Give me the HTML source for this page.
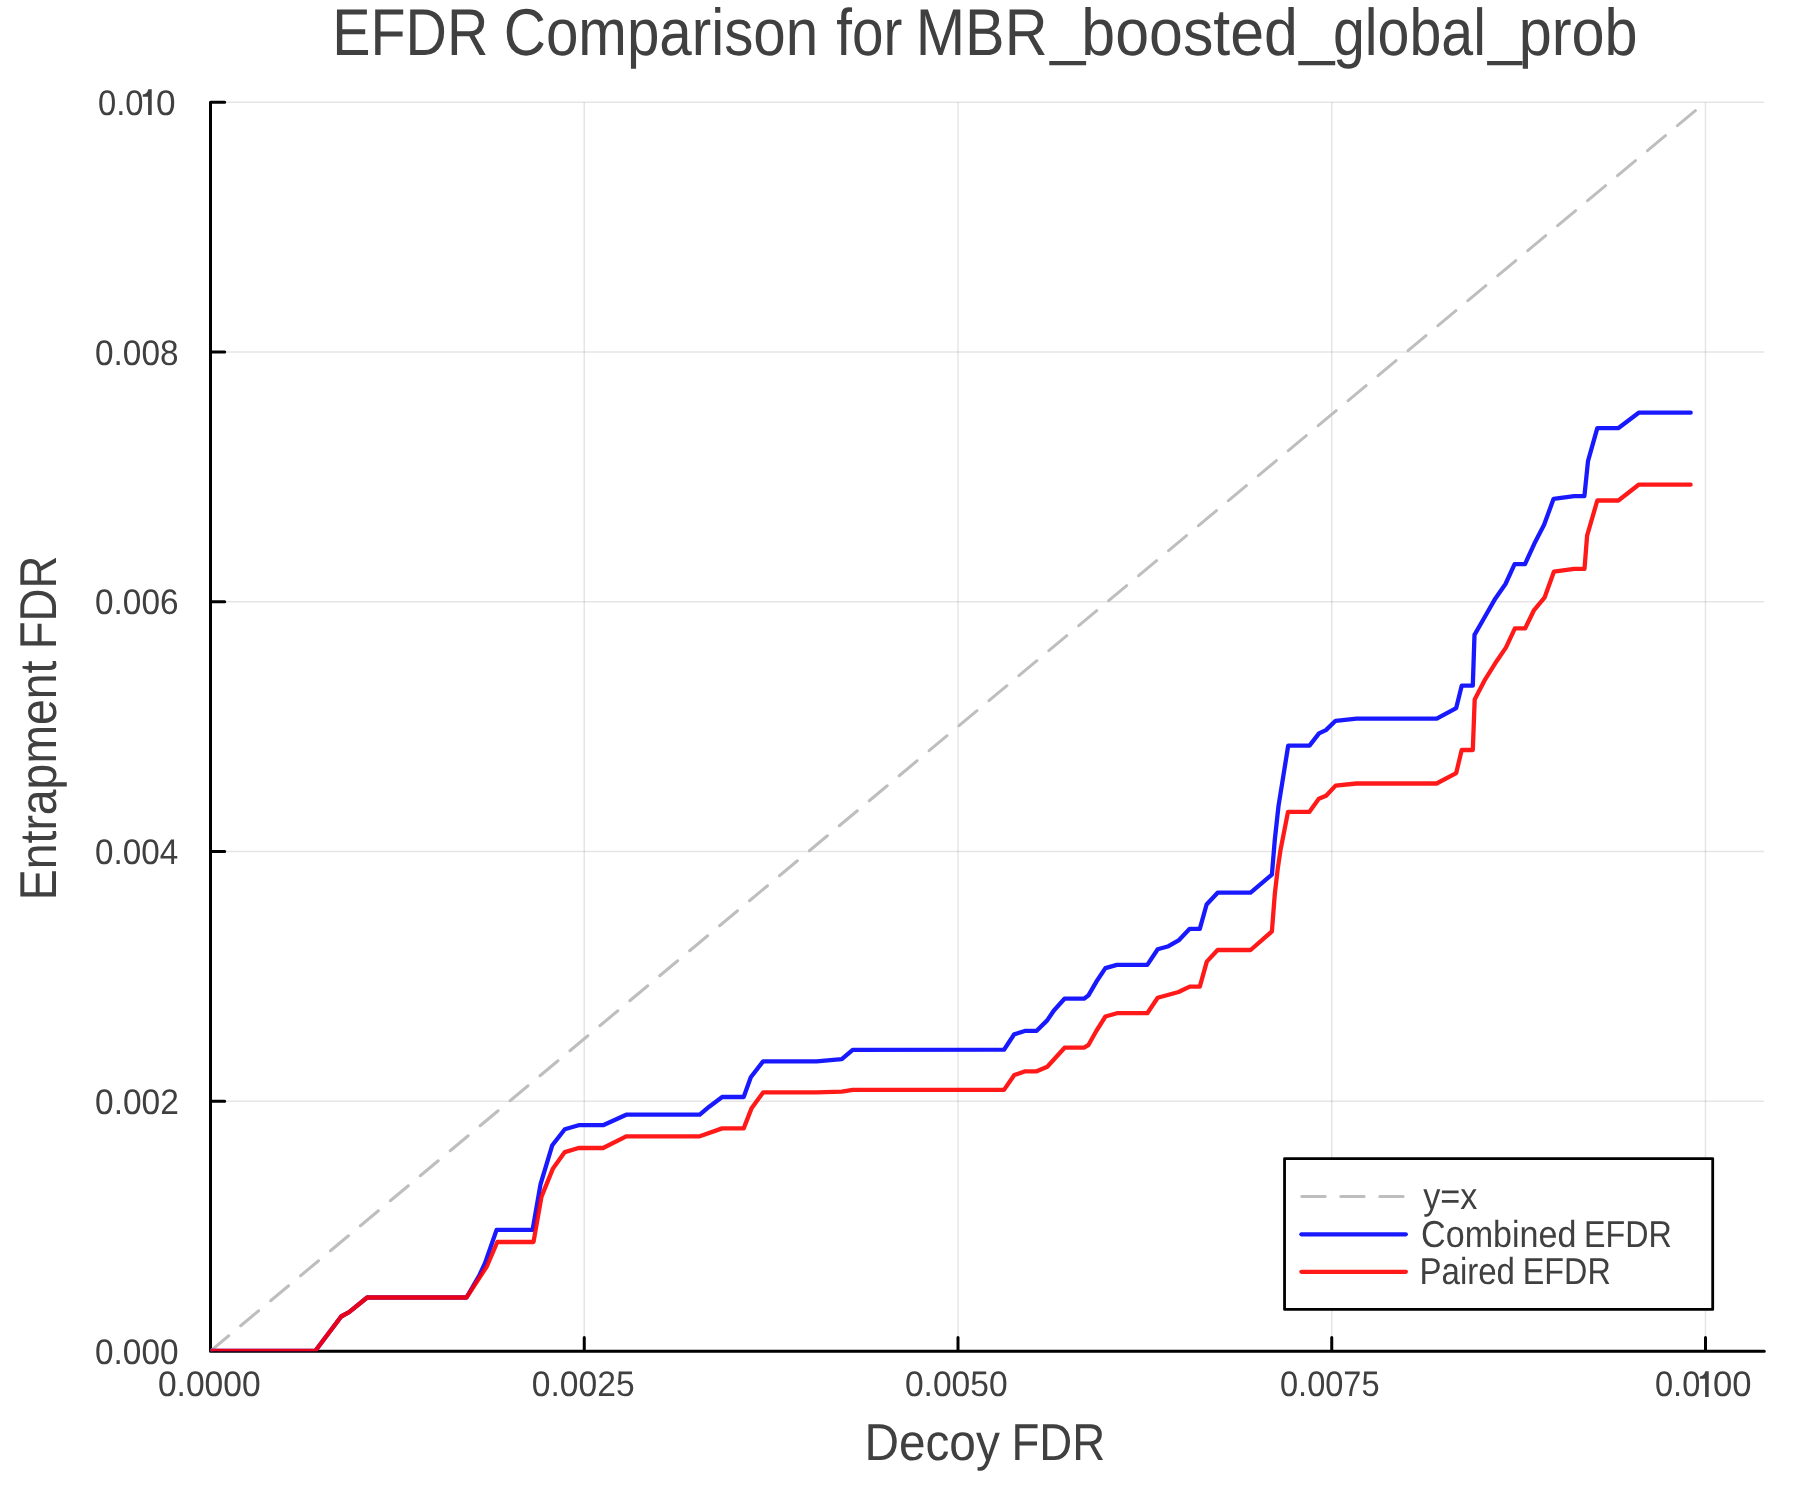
<!DOCTYPE html><html><head><meta charset="utf-8"><style>html,body{margin:0;padding:0;background:#fff;width:1800px;height:1500px;overflow:hidden}svg{display:block;will-change:transform}text{font-family:"Liberation Sans",sans-serif;fill:#404040;text-rendering:geometricPrecision}</style></head><body>
<svg width="1800" height="1500" viewBox="0 0 1800 1500">
<defs><clipPath id="pa"><rect x="210.5" y="102.2" width="1553.8" height="1249.1"/></clipPath></defs>
<rect width="1800" height="1500" fill="#fff"/>
<path d="M210.50 102.2V1351.0M584.25 102.2V1351.0M958.00 102.2V1351.0M1331.75 102.2V1351.0M1705.50 102.2V1351.0" stroke="#000" stroke-opacity="0.1" stroke-width="1.5" fill="none"/>
<path d="M210.5 1351.00H1764.3M210.5 1101.24H1764.3M210.5 851.48H1764.3M210.5 601.72H1764.3M210.5 351.96H1764.3M210.5 102.20H1764.3" stroke="#000" stroke-opacity="0.1" stroke-width="1.5" fill="none"/>
<path d="M210.5 102.2V1351.2H1764.3M210.50 1351.2V1337.5M584.25 1351.2V1337.5M958.00 1351.2V1337.5M1331.75 1351.2V1337.5M1705.50 1351.2V1337.5M210.5 1351.00H224.7M210.5 1101.24H224.7M210.5 851.48H224.7M210.5 601.72H224.7M210.5 351.96H224.7M210.5 102.20H224.7" stroke="#000" stroke-width="3" fill="none" stroke-linecap="round" stroke-linejoin="round"/>
<g clip-path="url(#pa)">
<path d="M210.5 1351L1705.5 102.2" stroke="#bebebe" stroke-width="3.0" stroke-dasharray="23.4 15.6" stroke-dashoffset="-0.35" stroke-linecap="round" fill="none"/>
<polyline points="210.5,1351.0 315.2,1351.0 341.2,1316.5 349.1,1312.2 367.2,1297.5 466.5,1297.5 479.5,1275.0 485.0,1263.2 496.6,1229.9 532.6,1229.9 540.5,1184.4 552.3,1145.2 564.8,1129.2 578.6,1125.2 603.1,1125.2 626.2,1114.7 699.8,1114.7 709.2,1106.7 722.2,1097.0 743.7,1097.0 750.8,1077.3 763.1,1061.4 816.6,1061.4 841.8,1059.2 852.7,1049.8 1004.0,1049.7 1014.2,1034.3 1025.6,1030.8 1036.7,1030.8 1047.2,1020.4 1053.7,1010.7 1064.5,998.7 1084.0,998.7 1088.3,995.6 1096.3,981.8 1105.4,968.1 1116.9,964.9 1147.3,964.9 1157.7,949.3 1168.5,946.2 1178.6,940.4 1189.7,928.8 1199.8,928.8 1206.6,904.5 1217.6,892.7 1250.6,892.7 1271.9,874.6 1274.8,839.7 1278.5,806.0 1288.2,745.6 1309.5,745.6 1319.0,733.4 1325.9,730.1 1335.6,720.8 1356.6,718.7 1436.7,718.7 1456.2,708.1 1461.7,685.7 1472.8,685.7 1474.5,634.9 1484.6,617.2 1495.4,598.4 1505.5,584.0 1514.6,564.1 1525.0,564.1 1534.4,543.6 1544.1,524.8 1553.6,498.8 1574.1,496.1 1584.4,496.1 1588.0,461.1 1597.3,428.2 1618.2,428.2 1638.7,412.7 1690.7,412.7" stroke="rgba(0,0,255,0.9)" stroke-width="4.3" fill="none" stroke-linejoin="round" stroke-linecap="round"/>
<polyline points="210.5,1351.0 315.2,1351.0 341.2,1316.5 349.1,1312.2 367.2,1297.5 466.5,1297.5 486.8,1266.5 497.3,1242.0 533.5,1242.0 541.5,1196.6 553.0,1168.4 564.8,1152.1 578.6,1148.0 603.1,1148.0 626.2,1136.3 699.8,1136.3 722.2,1128.4 743.7,1128.4 751.4,1108.6 763.1,1092.4 816.6,1092.4 841.8,1091.7 852.7,1089.9 1004.0,1089.9 1014.3,1075.0 1025.3,1071.3 1036.7,1071.3 1047.3,1066.7 1064.6,1047.7 1084.0,1047.7 1088.3,1045.2 1096.3,1031.0 1105.4,1016.5 1116.9,1013.2 1147.3,1013.2 1157.7,997.7 1178.6,992.0 1189.7,986.6 1199.8,986.6 1206.8,961.6 1217.6,950.0 1250.6,950.0 1271.9,931.4 1274.8,894.0 1277.7,869.0 1280.4,850.7 1288.0,811.9 1309.3,811.9 1318.8,798.7 1326.1,795.7 1335.6,785.6 1356.4,783.5 1436.6,783.5 1456.2,773.1 1461.7,750.0 1472.8,750.0 1474.7,699.4 1484.4,680.7 1495.2,663.3 1505.9,647.6 1514.9,628.3 1525.2,628.3 1533.7,610.7 1544.5,597.7 1553.9,571.7 1574.1,568.8 1584.5,568.8 1587.1,535.6 1597.3,500.5 1618.4,500.5 1638.6,484.7 1690.6,484.7" stroke="rgba(255,0,0,0.9)" stroke-width="4.3" fill="none" stroke-linejoin="round" stroke-linecap="round"/>
</g>
<text x="157.96" y="1396.15" font-size="35.60" textLength="102.64" lengthAdjust="spacingAndGlyphs">0.0000</text>
<text x="531.86" y="1396.15" font-size="35.60" textLength="102.74" lengthAdjust="spacingAndGlyphs">0.0025</text>
<text x="904.96" y="1396.15" font-size="35.60" textLength="102.64" lengthAdjust="spacingAndGlyphs">0.0050</text>
<text x="1280.00" y="1396.15" font-size="35.60" textLength="99.56" lengthAdjust="spacingAndGlyphs">0.0075</text>
<text x="1655.00" y="1396.15" font-size="35.60" textLength="45.31" lengthAdjust="spacingAndGlyphs">0.0</text>
<path d="M1708.70 1371.20L1708.70 1396.90L1705.10 1396.90L1705.10 1378.70L1699.80 1378.70L1699.80 1376.40C1702.70 1376.20 1704.50 1374.70 1705.30 1371.20Z" fill="#404040"/>
<text x="1712.91" y="1396.15" font-size="35.60" textLength="38.55" lengthAdjust="spacingAndGlyphs">00</text>
<text x="95.07" y="1363.70" font-size="35.60" textLength="83.45" lengthAdjust="spacingAndGlyphs">0.000</text>
<text x="95.06" y="1113.94" font-size="35.60" textLength="83.80" lengthAdjust="spacingAndGlyphs">0.002</text>
<text x="95.07" y="864.18" font-size="35.60" textLength="83.11" lengthAdjust="spacingAndGlyphs">0.004</text>
<text x="95.07" y="614.42" font-size="35.60" textLength="83.45" lengthAdjust="spacingAndGlyphs">0.006</text>
<text x="95.07" y="364.66" font-size="35.60" textLength="83.45" lengthAdjust="spacingAndGlyphs">0.008</text>
<text x="97.99" y="114.90" font-size="35.60" textLength="45.52" lengthAdjust="spacingAndGlyphs">0.0</text>
<path d="M151.70 89.30L151.70 115.00L148.10 115.00L148.10 96.80L142.80 96.80L142.80 94.50C145.70 94.30 147.50 92.80 148.30 89.30Z" fill="#404040"/>
<text x="156.09" y="114.90" font-size="35.60" textLength="19.58" lengthAdjust="spacingAndGlyphs">0</text>
<text x="332.21" y="54.60" font-size="66.10" textLength="156.08" lengthAdjust="spacingAndGlyphs">EFDR</text>
<text x="503.78" y="54.60" font-size="66.10" textLength="314.49" lengthAdjust="spacingAndGlyphs">Comparison</text>
<text x="836.23" y="54.60" font-size="66.10" textLength="66.03" lengthAdjust="spacingAndGlyphs">for</text>
<text x="915.65" y="54.60" font-size="66.10" textLength="131.84" lengthAdjust="spacingAndGlyphs">MBR</text>
<text x="1081.34" y="54.60" font-size="66.10" textLength="216.64" lengthAdjust="spacingAndGlyphs">boosted</text>
<text x="1333.01" y="54.60" font-size="66.10" textLength="152.95" lengthAdjust="spacingAndGlyphs">global</text>
<text x="1518.64" y="54.60" font-size="66.10" textLength="118.93" lengthAdjust="spacingAndGlyphs">prob</text>
<text x="1050.16" y="52.10" font-size="66.10" textLength="35.17" lengthAdjust="spacingAndGlyphs">_</text>
<text x="1299.17" y="52.10" font-size="66.10" textLength="35.26" lengthAdjust="spacingAndGlyphs">_</text>
<text x="1488.12" y="52.10" font-size="66.10" textLength="33.85" lengthAdjust="spacingAndGlyphs">_</text>
<text x="864.38" y="1459.80" font-size="51.80" textLength="135.44" lengthAdjust="spacingAndGlyphs">Decoy</text>
<text x="1011.45" y="1459.80" font-size="51.80" textLength="93.77" lengthAdjust="spacingAndGlyphs">FDR</text>
<text transform="translate(56.00,0) rotate(-90)" x="-900.21" y="0" font-size="51.80" textLength="239.65" lengthAdjust="spacingAndGlyphs">Entrapment</text>
<text transform="translate(56.00,0) rotate(-90)" x="-649.35" y="0" font-size="51.80" textLength="93.67" lengthAdjust="spacingAndGlyphs">FDR</text>
<rect x="1284.55" y="1158.6" width="428.15" height="150.8" fill="#fff" stroke="#000" stroke-width="2.8" stroke-linejoin="round"/>
<path d="M1301.4 1196.5H1405.8" stroke="#bebebe" stroke-width="3.0" stroke-dasharray="23.4 15.6" stroke-dashoffset="-0.35" stroke-linecap="round"/>
<path d="M1301.4 1234.3H1405.8" stroke="rgba(0,0,255,0.9)" stroke-width="4.3" stroke-linecap="round"/>
<path d="M1301.4 1271.8H1405.8" stroke="rgba(255,0,0,0.9)" stroke-width="4.3" stroke-linecap="round"/>
<text x="1423.20" y="1208.90" font-size="37.50" textLength="54.18" lengthAdjust="spacingAndGlyphs">y=x</text>
<text x="1421.10" y="1247.30" font-size="37.50" textLength="155.33" lengthAdjust="spacingAndGlyphs">Combined</text>
<text x="1584.02" y="1247.30" font-size="37.50" textLength="87.76" lengthAdjust="spacingAndGlyphs">EFDR</text>
<text x="1419.46" y="1283.90" font-size="37.50" textLength="95.55" lengthAdjust="spacingAndGlyphs">Paired</text>
<text x="1522.81" y="1283.90" font-size="37.50" textLength="87.97" lengthAdjust="spacingAndGlyphs">EFDR</text>
</svg></body></html>
